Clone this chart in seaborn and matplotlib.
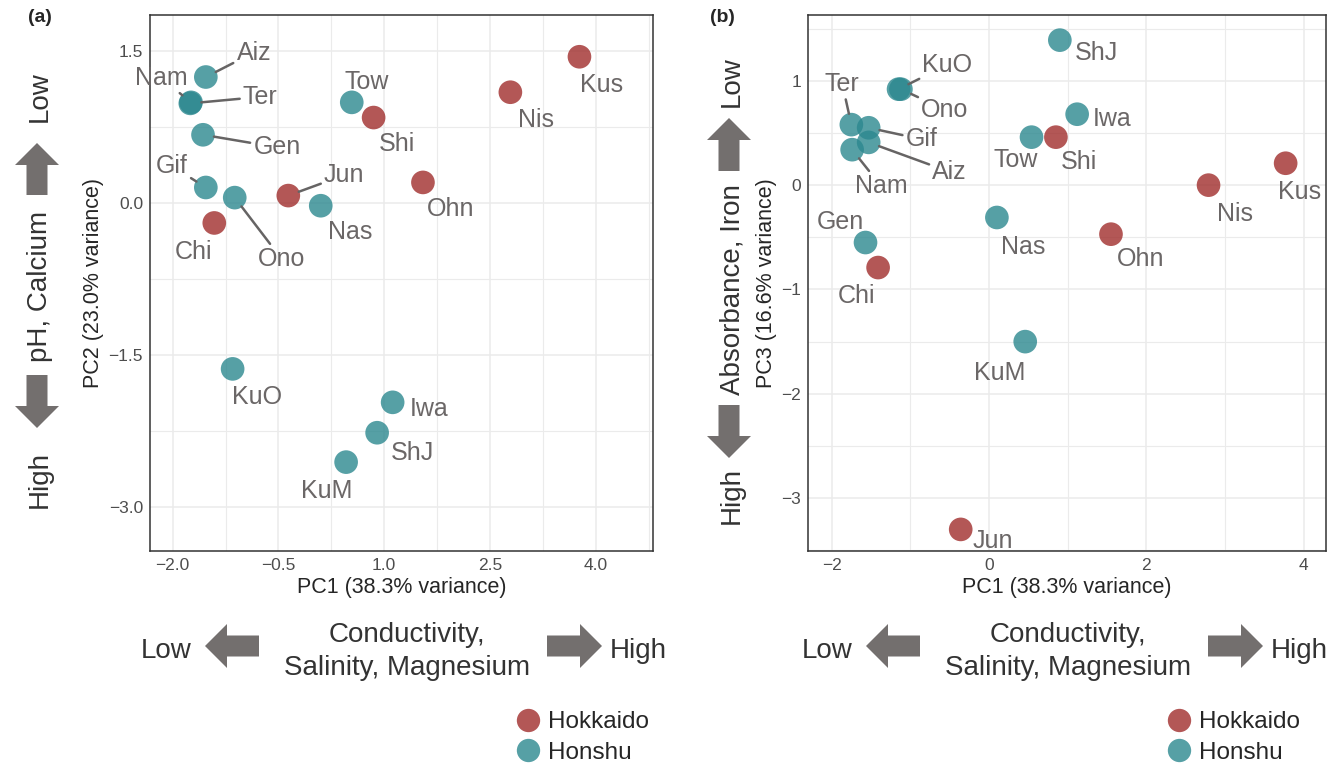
# -*- coding: utf-8 -*-
"""
PCA of the site water chemistry.
(a) PC1 vs PC2, (b) PC1 vs PC3, points coloured by island.
"""

import matplotlib
matplotlib.use("Agg")
import matplotlib.pyplot as plt
from matplotlib.lines import Line2D
from matplotlib.patches import FancyArrow
import seaborn as sns
import pandas as pd

# ---- data ----
sites = ["Aiz", "Nam", "Ter", "Gen", "Gif", "Ono", "KuO", "Chi", "Jun",
         "Nas", "Tow", "Shi", "Ohn", "Nis", "Kus", "Iwa", "ShJ", "KuM"]
region = ["Honshu", "Honshu", "Honshu", "Honshu", "Honshu", "Honshu", "Honshu",
          "Hokkaido", "Hokkaido", "Honshu", "Honshu", "Hokkaido", "Hokkaido",
          "Hokkaido", "Hokkaido", "Honshu", "Honshu", "Honshu"]
pc1 = [-1.53, -1.74, -1.75, -1.57, -1.53, -1.12, -1.15, -1.41, -0.36,
       0.10, 0.54, 0.85, 1.55, 2.79, 3.77, 1.12, 0.90, 0.46]
pc2 = [1.24, 0.99, 0.98, 0.67, 0.15, 0.05, -1.64, -0.20, 0.07,
       -0.03, 0.99, 0.84, 0.20, 1.09, 1.44, -1.97, -2.27, -2.56]
pc3 = [0.41, 0.34, 0.58, -0.55, 0.55, 0.92, 0.92, -0.79, -3.30,
       -0.31, 0.46, 0.46, -0.47, 0.00, 0.21, 0.68, 1.39, -1.50]

regions = ["Hokkaido", "Honshu"]
region_colors = ["#A02D2C", "#2C888F"]

xticks_a = [-2.0, -0.5, 1.0, 2.5, 4.0]
yticks_a = [1.5, 0.0, -1.5, -3.0]
xticks_b = [-2, 0, 2, 4]
yticks_b = [1, 0, -1, -2, -3]

# label offsets from the point in pixels (dx, dy down), and whether a segment is drawn
offsets_a = {
    "Aiz": (48, -27, True), "Nam": (-30, -27, True), "Ter": (70, -9, True),
    "Gen": (74, 10, True), "Gif": (-34, -24, True), "Ono": (47, 59, True),
    "Chi": (-21, 27, False), "Jun": (56, -23, True), "Nas": (29, 24, False),
    "Tow": (15, -23, False), "Shi": (23, 24, False), "Ohn": (28, 24, False),
    "Nis": (26, 25, False), "Kus": (22, 26, False), "KuO": (24, 26, False),
    "Iwa": (36, 4, False), "ShJ": (35, 18, False), "KuM": (-19, 26, False),
}
offsets_b = {
    "ShJ": (37, 10, False), "KuO": (49, -27, True), "Ono": (44, 18, True),
    "Ter": (-9, -43, True), "Gif": (53, 9, True), "Aiz": (81, 27, True),
    "Nam": (29, 34, True), "Iwa": (35, 2, False), "Tow": (-16, 20, False),
    "Shi": (23, 22, False), "Kus": (14, 26, False), "Nis": (26, 26, False),
    "Nas": (26, 27, False), "Ohn": (30, 22, False), "Gen": (-25, -23, False),
    "Chi": (-22, 26, False), "KuM": (-26, 29, False), "Jun": (32, 9, False),
}

TEXT_GREY = "#6B6767"
SEG_GREY = "#666464"
ARROW_GREY = "#736F6E"
W, H = 1328, 765


def fx(x):
    return x / W


def fy(y):
    return 1 - y / H


def fmt(v, nd):
    return f"{v:.{nd}f}".replace("-", "\u2212")


def minor_from(ticks):
    step = ticks[1] - ticks[0]
    return [ticks[0] - step / 2] + [t + step / 2 for t in ticks]


def style_axes(ax, xticks, yticks, nd, xlim, ylim):
    ax.set_xticks(xticks, labels=[fmt(t, nd) for t in xticks])
    ax.set_yticks(yticks, labels=[fmt(t, nd) for t in yticks])
    ax.set_xticks(minor_from(xticks), minor=True)
    ax.set_yticks(minor_from(yticks), minor=True)
    # limits after the ticks, set_ticks would widen them
    ax.set_xlim(*xlim)
    ax.set_ylim(*ylim)
    ax.grid(True, which="major", color="#EBEBEB", lw=1.1, zorder=0)
    ax.grid(True, which="minor", color="#EBEBEB", lw=0.8, zorder=0)
    ax.set_axisbelow(True)
    ax.tick_params(which="major", length=3, width=1.0, color="#333333",
                   labelsize=12.5, labelcolor="#4D4D4D", pad=2)
    ax.tick_params(which="minor", length=0)
    for sp in ax.spines.values():
        sp.set_color("#333333")
        sp.set_linewidth(1.1)


def label_points(ax, xs, ys, offsets):
    for name, x, y in zip(sites, xs, ys):
        dx, dy, seg = offsets[name]
        arrow = None
        if seg:
            arrow = dict(arrowstyle="-", color=SEG_GREY, lw=1.8, shrinkA=0, shrinkB=8)
        ax.annotate(name, xy=(x, y), xytext=(dx * 0.72, -dy * 0.72),
                    textcoords="offset points", ha="center", va="center_baseline",
                    fontsize=18, color=TEXT_GREY, arrowprops=arrow, zorder=4)


def block_arrow(fig, x0, y0, x1, y1):
    # pixel coords from the top left corner, drawn in inches
    fig.add_artist(FancyArrow(x0 / 100, (H - y0) / 100, (x1 - x0) / 100, -(y1 - y0) / 100,
                              width=0.21, head_width=0.44, head_length=0.22,
                              length_includes_head=True, transform=fig.dpi_scale_trans,
                              color=ARROW_GREY, lw=0))


def side_guide(fig, x, text, y_low, y_mid, y_high, up, down):
    kw = dict(rotation=90, rotation_mode="anchor", ha="center", va="center_baseline",
              fontsize=20, color="#333333")
    fig.text(fx(x), fy(y_low), "Low", **kw)
    fig.text(fx(x), fy(y_mid), text, **kw)
    fig.text(fx(x), fy(y_high), "High", **kw)
    block_arrow(fig, x, up[0], x, up[1])
    block_arrow(fig, x, down[0], x, down[1])


def bottom_guide(fig, cx, y=646):
    kw = dict(ha="center", va="center_baseline", fontsize=20, color="#333333")
    fig.text(fx(cx - 241), fy(y + 2), "Low", **kw)
    fig.text(fx(cx), fy(632), "Conductivity,", **kw)
    fig.text(fx(cx), fy(665), "Salinity, Magnesium", **kw)
    fig.text(fx(cx + 231), fy(y + 2), "High", **kw)
    block_arrow(fig, cx - 148, y, cx - 202, y)
    block_arrow(fig, cx + 140, y, cx + 195, y)


def add_legend(fig, x, y):
    handles = [Line2D([], [], ls="none", marker="o", markersize=16.8, alpha=0.8,
                      markerfacecolor=c, markeredgecolor="none") for c in region_colors]
    fig.legend(handles, regions, loc="upper left", bbox_to_anchor=(fx(x), fy(y)),
               frameon=False, fontsize=17.5, handlelength=1.0, handletextpad=0.32,
               labelspacing=0.35, borderpad=0, borderaxespad=0)


def main():
    sns.set_style("white")
    plt.rcParams["font.family"] = ["Liberation Sans", "DejaVu Sans"]

    df = pd.DataFrame({"site": sites, "Region": region, "PC1": pc1, "PC2": pc2, "PC3": pc3})
    palette = dict(zip(regions, region_colors))

    fig = plt.figure(figsize=(W / 100, H / 100), dpi=100)
    ax_a = fig.add_axes([fx(150), fy(551), (652.7 - 150) / W, (551 - 15) / H])
    ax_b = fig.add_axes([fx(808), fy(551), (1326 - 808) / W, (551 - 15) / H])

    sns.scatterplot(data=df, x="PC1", y="PC2", hue="Region", palette=palette, s=290,
                    alpha=0.8, edgecolor="none", legend=False, ax=ax_a, zorder=3)
    style_axes(ax_a, xticks_a, yticks_a, 1, (-2.322, 4.809), (-3.437, 1.852))
    ax_a.set_xlabel("PC1 (38.3% variance)", fontsize=15.5, labelpad=3)
    ax_a.set_ylabel("PC2 (23.0% variance)", fontsize=15.5, labelpad=3)
    label_points(ax_a, pc1, pc2, offsets_a)

    sns.scatterplot(data=df, x="PC1", y="PC3", hue="Region", palette=palette, s=290,
                    alpha=0.8, edgecolor="none", legend=False, ax=ax_b, zorder=3)
    style_axes(ax_b, xticks_b, yticks_b, 0, (-2.301, 4.283), (-3.507, 1.631))
    ax_b.set_xlabel("PC1 (38.3% variance)", fontsize=15.5, labelpad=3)
    ax_b.set_ylabel("PC3 (16.6% variance)", fontsize=15.5, labelpad=3)
    label_points(ax_b, pc1, pc3, offsets_b)

    fig.text(fx(40), fy(18), "(a)", fontsize=14, weight="bold", ha="center", va="center")
    fig.text(fx(722), fy(18), "(b)", fontsize=14, weight="bold", ha="center", va="center")

    # direction guides round the panels
    side_guide(fig, 37, "pH, Calcium", 97, 286, 479, (195, 143), (375, 428))
    side_guide(fig, 729, "Absorbance, Iron", 82, 290, 496, (171, 118), (405, 458))
    bottom_guide(fig, 407)
    bottom_guide(fig, 1068)

    add_legend(fig, 516, 711)
    add_legend(fig, 1167, 711)

    fig.savefig("out.png", dpi=100)


if __name__ == "__main__":
    main()
